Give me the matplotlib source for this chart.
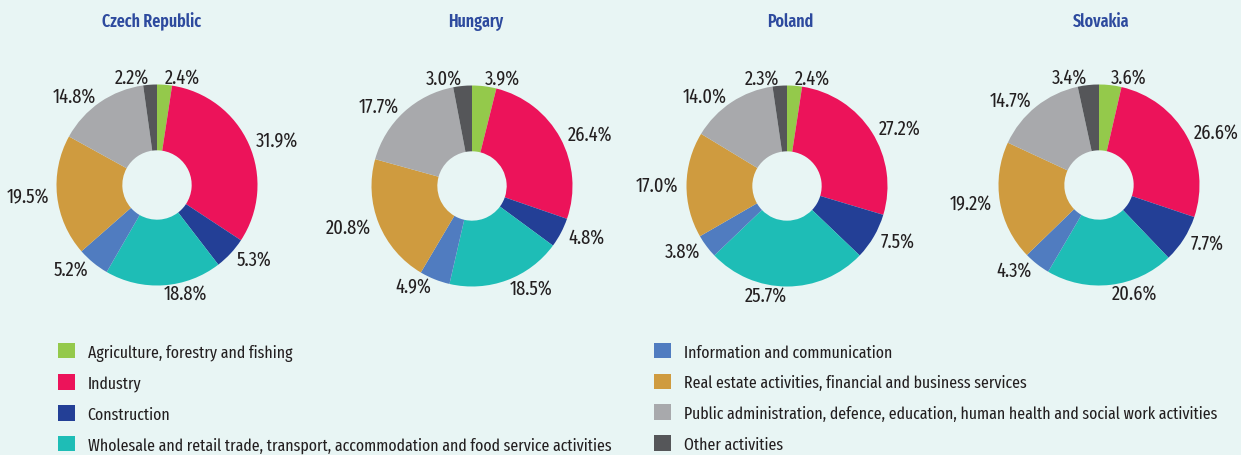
import matplotlib
matplotlib.use("Agg")
import matplotlib.pyplot as plt

# Gross value added structure by sector (% of total)
countries = ["Czech Republic", "Hungary", "Poland", "Slovakia"]
sectors = [
    "Agriculture, forestry and fishing",
    "Industry",
    "Construction",
    "Wholesale and retail trade, transport, accommodation and food service activities",
    "Information and communication",
    "Real estate activities, financial and business services",
    "Public administration, defence, education, human health and social work activities",
    "Other activities",
]
czech = [2.4, 31.9, 5.3, 18.8, 5.2, 19.5, 14.8, 2.2]
hungary = [3.9, 26.4, 4.8, 18.5, 4.9, 20.8, 17.7, 3.0]
poland = [2.4, 27.2, 7.5, 25.7, 3.8, 17.0, 14.0, 2.3]
slovakia = [3.6, 26.6, 7.7, 20.6, 4.3, 19.2, 14.7, 3.4]
shares = [czech, hungary, poland, slovakia]

colors = ["#94c94b", "#ec135a", "#233f96", "#1ebdb6",
          "#507cc0", "#cf9b3f", "#a8a9ac", "#555659"]
bg = "#e8f5f4"
title_color = "#2d4a9e"
text_color = "#231f20"
plt.rcParams["font.family"] = ["Fira Sans Extra Condensed", "PT Sans Narrow", "DejaVu Sans"]

W, H = 1241, 456
fig = plt.figure(figsize=(W / 100, H / 100), dpi=100, facecolor=bg)

centers = [(157, 186), (472, 187), (787, 187), (1099, 186)]
R = 100.5
span = 1.6  # axes half-width in units of the pie radius

wedges_for_legend = None
for (cx, cy), vals in zip(centers, shares):
    half = R * span
    ax = fig.add_axes([(cx - half) / W, (H - cy - half) / H, 2 * half / W, 2 * half / H])
    ax.set_facecolor(bg)
    ax.axis("off")
    wedges, texts = ax.pie(
        vals, colors=colors, startangle=90, counterclock=False,
        labels=[f"{v:.1f}%" for v in vals], labeldistance=1.08,
        wedgeprops=dict(width=0.655, edgecolor="none"),
        textprops=dict(fontsize=14.5, color=text_color),
    )
    ax.set_xlim(-span, span)
    ax.set_ylim(-span, span)
    ax.set_aspect("equal")
    if wedges_for_legend is None:
        wedges_for_legend = wedges

title_x = [152, 476, 790, 1101]
for tx, name in zip(title_x, countries):
    fig.text(tx / W, 1 - 22 / H, name, ha="center", va="center",
             fontsize=12.5, fontweight="semibold", color=title_color)

legend_kw = dict(frameon=False, fontsize=12.4, handlelength=1.0, handleheight=1.0,
                 handletextpad=0.72, labelspacing=0.8, borderpad=0, borderaxespad=0,
                 labelcolor=text_color, loc="upper left")
fig.legend(wedges_for_legend[:4], sectors[:4],
           bbox_to_anchor=(58 / W, 1 - 344 / H), **legend_kw)
fig.legend(wedges_for_legend[4:], sectors[4:],
           bbox_to_anchor=(654 / W, 1 - 344 / H), **legend_kw)

fig.savefig("out.png", dpi=100, facecolor=bg)
